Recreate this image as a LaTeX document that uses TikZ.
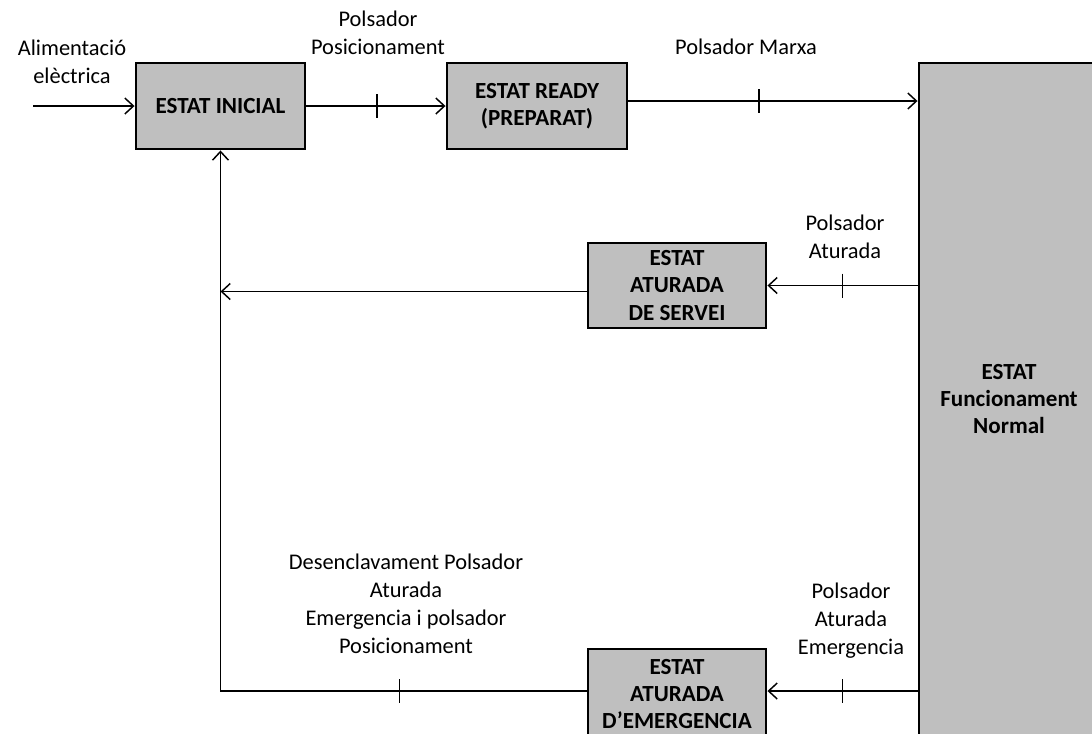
\documentclass[tikz,border=0pt]{standalone}
\usepackage{fontspec}
\setmainfont{Carlito}
\usetikzlibrary{arrows.meta}
\definecolor{boxgray}{RGB}{191,191,191}
\begin{document}
\begin{tikzpicture}[x=0.75pt,y=-0.75pt,
  state/.style={draw=black, line width=2.2pt, fill=boxgray, align=center,
    inner sep=0pt, font=\bfseries\fontsize{17.3}{20.6}\selectfont},
  conn/.style={line width=1.1pt, -{Straight Barb[length=6.5pt,width=12pt]}},
  tickmark/.style={line width=1.1pt},
  lbl/.style={align=center, inner sep=0pt, font=\fontsize{16.8}{21}\selectfont}]
\useasboundingbox (0,0) rectangle (1092,733);
\clip (0,0) rectangle (1092,733);

% states
\node[state, minimum width=126.75pt, minimum height=64.5pt] (inicial) at (220.5,106) {ESTAT INICIAL};
\node[state, minimum width=135pt, minimum height=64.5pt] (ready) at (537,106) {ESTAT READY\\(PREPARAT)};
\node[state, minimum width=133.5pt, minimum height=63.75pt] (servei) at (677,285.5) {ESTAT\\ATURADA\\DE SERVEI};
\node[state, minimum width=133.5pt, minimum height=67.5pt] (emerg) at (677,694) {ESTAT\\ATURADA\\D’EMERGENCIA};
\node[state, minimum width=150.75pt, minimum height=522.75pt] (normal) at (1019.5,411.5) {};
\node[align=center, inner sep=0pt, font=\bfseries\fontsize{17.3}{20.6}\selectfont] (normaltxt) at (1009,399) {ESTAT\\Funcionament\\Normal};

% transition labels
\node[lbl] (alim) at (72,62) {Alimentació\\elèctrica};
\node[lbl] (posic) at (378,33) {Polsador\\Posicionament};
\node[lbl] (marxa) at (746,47) {Polsador Marxa};
\node[lbl] (atur) at (845,237) {Polsador\\Aturada};
\node[lbl] (aturem) at (851,621) {Polsador\\Aturada\\Emergencia};
\node[lbl] (desencl) at (406,604) {Desenclavament Polsador\\Aturada\\Emergencia i polsador\\Posicionament};

% transitions
\coordinate (src) at (33,106);
\draw[conn] (src) -- (inicial.west);

\draw[conn] (inicial.east) -- coordinate[pos=0.507] (t1) (ready.west);
\draw[tickmark] (t1) ++(0,-12) -- ++(0,24);

\draw[conn] ([yshift=3.75pt]ready.east) -- coordinate[pos=0.452] (t2) ([yshift=3.75pt]ready.east -| normal.west);
\draw[tickmark] (t2) ++(0,-12) -- ++(0,24);

\draw[conn] (normal.west |- servei.east) -- coordinate[pos=0.5] (t3) (servei.east);
\draw[tickmark] (t3) ++(0,-12) -- ++(0,24);

\draw[conn] ([yshift=-4.5pt]servei.west) -- ([yshift=-4.5pt]servei.west -| inicial.south);

\draw[conn] ([yshift=2.25pt]emerg.east -| normal.west) -- coordinate[pos=0.5] (t4) ([yshift=2.25pt]emerg.east);
\draw[tickmark] (t4) ++(0,-12) -- ++(0,24);

\draw[conn] ([yshift=2.25pt]emerg.west) -- coordinate[pos=0.511] (t5) ([yshift=2.25pt]emerg.west -| inicial.south) -- (inicial.south);
\draw[tickmark] (t5) ++(0,-12) -- ++(0,24);
\end{tikzpicture}
\end{document}
